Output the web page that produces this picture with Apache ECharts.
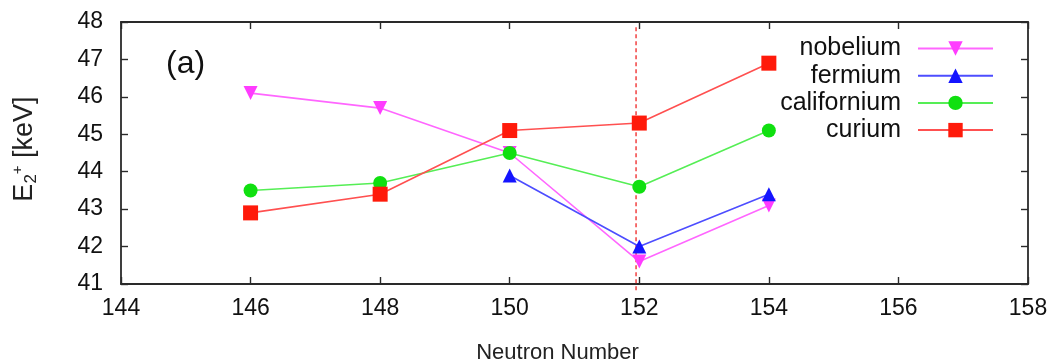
<!DOCTYPE html>
<html>
<head>
<meta charset="utf-8">
<script src="https://cdn.jsdelivr.net/npm/echarts@6/dist/echarts.min.js"></script>
<style>
  html, body { margin: 0; padding: 0; background: #fff; }
  #chart { width: 1054px; height: 363px; }
</style>
</head>
<body>
<div id="chart"></div>
<script>
// Neutron numbers and E(2+) energies (keV) for each element
const neutronNumbers = [146, 148, 150, 152, 154];
const nobelium    = [46.1, 45.7, 44.5, 41.6, 43.1];
const fermium     = [null, null, 43.9, 42.0, 43.4];
const californium = [43.5, 43.7, 44.5, 43.6, 45.1];
const curium      = [42.9, 43.4, 45.1, 45.3, 46.9];

// Vertical guide at the N = 152 shell gap
const shellGap = 151.95;
const guideSpan = [40.83, 47.87];

const xTicks = { min: 144, max: 158, step: 2 };
const yTicks = { min: 41, max: 48, step: 1 };

const FONT = '"Liberation Sans", Arial, sans-serif';
const AXIS_COLOR = '#2a2a2a';

function pairs(values) {
  return neutronNumbers.map((n, i) => [n, values[i]]);
}

const seriesDefs = [
  { name: 'nobelium',    values: nobelium,    color: '#ff3cff', line: '#ff66ff', symbol: 'triangle', rotate: 180, size: 14 },
  { name: 'fermium',     values: fermium,     color: '#1414ff', line: '#4d4dff', symbol: 'triangle', rotate: 0,   size: 14 },
  { name: 'californium', values: californium, color: '#10e010', line: '#55ee55', symbol: 'circle',   rotate: 0,   size: 14 },
  { name: 'curium',      values: curium,      color: '#ff1a0a', line: '#ff5050', symbol: 'rect',     rotate: 0,   size: 15 }
];

const chart = echarts.init(document.getElementById('chart'), null, { renderer: 'canvas' });

const axisBase = {
  axisLine: { show: true, onZero: false, lineStyle: { color: AXIS_COLOR, width: 1.8 } },
  axisTick: { show: true, inside: true, length: 7, lineStyle: { color: AXIS_COLOR, width: 1.4 } },
  splitLine: { show: false }
};

const legends = seriesDefs.map((s, i) => ({
  data: [s.name],
  right: 55,
  top: 31 + i * 27.2,
  orient: 'vertical',
  align: 'right',
  itemWidth: 75,
  itemHeight: 18,
  selectedMode: false,
  textStyle: { fontFamily: FONT, fontSize: 25, color: '#111', padding: [0, 12, 0, 0] }
}));

const lineSeries = seriesDefs.map(s => ({
  name: s.name,
  type: 'line',
  data: pairs(s.values),
  connectNulls: false,
  symbol: s.symbol,
  symbolRotate: s.rotate,
  symbolSize: s.size,
  showAllSymbol: true,
  itemStyle: { color: s.color },
  lineStyle: { color: s.line, width: 1.6 },
  emphasis: { disabled: true },
  animation: false
}));

chart.setOption({
  backgroundColor: '#ffffff',
  animation: false,
  grid: { left: 121, right: 26, top: 22, bottom: 79, containLabel: false, outerBoundsMode: 'none' },
  legend: legends,
  xAxis: [
    Object.assign({}, axisBase, {
      type: 'value', position: 'bottom',
      min: xTicks.min, max: xTicks.max, interval: xTicks.step,
      name: 'Neutron Number', nameLocation: 'middle', nameGap: 58,
      nameTextStyle: { fontFamily: FONT, fontSize: 22, color: '#222', padding: [0, 34, 0, 0] },
      axisLabel: { fontFamily: FONT, fontSize: 23, color: '#111', margin: 13 }
    }),
    Object.assign({}, axisBase, {
      type: 'value', position: 'top',
      min: xTicks.min, max: xTicks.max, interval: xTicks.step,
      axisLabel: { show: false }
    })
  ],
  yAxis: [
    Object.assign({}, axisBase, {
      type: 'value', position: 'left',
      min: yTicks.min, max: yTicks.max, interval: yTicks.step,
      name: 'E{sub|2}{sup|+} [keV]', nameLocation: 'middle', nameGap: 81, nameRotate: 90,
      nameTextStyle: {
        fontFamily: FONT, fontSize: 27, color: '#222', padding: [0, 0, 0, 8],
        rich: {
          sub: { fontFamily: FONT, fontSize: 17, color: '#222', verticalAlign: 'bottom', padding: [13, 0, 0, 0] },
          sup: { fontFamily: FONT, fontSize: 15, color: '#222', verticalAlign: 'top', padding: [0, 0, 13, 0] }
        }
      },
      axisLabel: { fontFamily: FONT, fontSize: 23, color: '#111', margin: 18 }
    }),
    Object.assign({}, axisBase, {
      type: 'value', position: 'right',
      min: yTicks.min, max: yTicks.max, interval: yTicks.step,
      axisLabel: { show: false }
    })
  ],
  graphic: [{
    type: 'text', left: 166, top: 48,
    style: { text: '(a)', fontFamily: FONT, fontSize: 32, fill: '#111' }
  }],
  series: [
    {
      name: 'N152',
      type: 'line',
      data: [[shellGap, guideSpan[0]], [shellGap, guideSpan[1]]],
      symbol: 'none',
      clip: false,
      silent: true,
      lineStyle: { color: '#ee1111', width: 1.2, type: [4, 3] },
      z: 1,
      animation: false
    }
  ].concat(lineSeries)
});
</script>
</body>
</html>
